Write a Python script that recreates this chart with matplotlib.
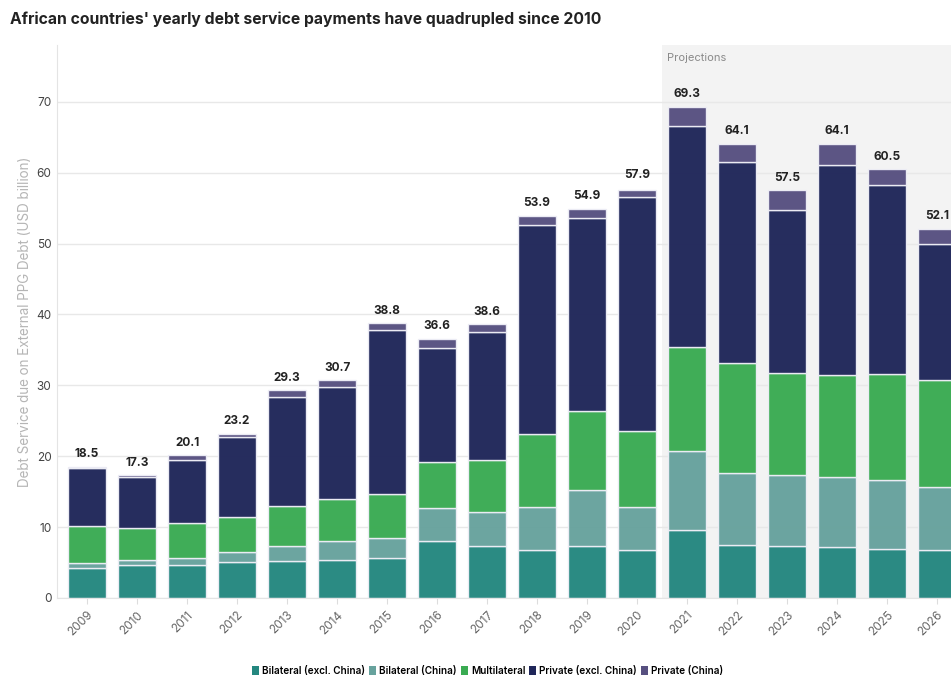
import numpy as np
import matplotlib
matplotlib.use("Agg")
import matplotlib.pyplot as plt
from matplotlib.patches import Patch

plt.rcParams['font.family'] = ['Inter', 'DejaVu Sans']

# Data (USD billion)
years = [str(y) for y in range(2009, 2027)]
bilateral_excl = [4.3, 4.7, 4.6, 5.1, 5.2, 5.4, 5.7, 8.0, 7.3, 6.7, 7.4, 6.8,
                  9.6, 7.5, 7.3, 7.2, 6.9, 6.8]
bilateral_china = [0.7, 0.6, 1.0, 1.4, 2.2, 2.6, 2.8, 4.7, 4.9, 6.2, 7.8, 6.1,
                   11.1, 10.1, 10.1, 9.9, 9.8, 8.8]
multilateral = [5.2, 4.6, 5.0, 4.9, 5.6, 5.9, 6.1, 6.5, 7.3, 10.2, 11.2, 10.6,
                14.7, 15.6, 14.3, 14.4, 14.9, 15.1]
private_excl = [8.1, 7.1, 8.9, 11.3, 15.4, 15.9, 23.2, 16.0, 18.0, 29.5, 27.2, 33.0,
                31.2, 28.3, 23.0, 29.6, 26.6, 19.3]
private_china = [0.2, 0.3, 0.6, 0.5, 0.9, 0.9, 1.0, 1.4, 1.1, 1.3, 1.3, 1.1,
                 2.7, 2.6, 2.8, 3.0, 2.3, 2.1]
totals = [18.5, 17.3, 20.1, 23.2, 29.3, 30.7, 38.8, 36.6, 38.6, 53.9, 54.9, 57.9,
          69.3, 64.1, 57.5, 64.1, 60.5, 52.1]

series = [
    ("Bilateral (excl. China)", bilateral_excl, "#24877f"),
    ("Bilateral (China)", bilateral_china, "#67a29d"),
    ("Multilateral", multilateral, "#3aab52"),
    ("Private (excl. China)", private_excl, "#1f2659"),
    ("Private (China)", private_china, "#575080"),
]

fig = plt.figure(figsize=(9.51, 6.79), dpi=100)
ax = fig.add_axes([0.06, 0.1193, 0.94, 0.8144])

x = np.arange(len(years))

# projections shading
ax.axvspan(11.5, 17.5, color="#f3f3f3", zorder=0, lw=0)
ax.text(11.6, 76.2, "Projections", color="#8a8a8a", fontsize=8, va="center")

bottom = np.zeros(len(years))
for name, vals, col in series:
    vals = np.array(vals)
    ax.bar(x, vals, bottom=bottom, width=0.76, color=col, edgecolor="#eeeef6",
           linewidth=1, alpha=0.97, zorder=2, label=name)
    bottom += vals

for xi, t in zip(x, totals):
    ax.text(xi, t + 0.9, f"{t:.1f}", ha="center", va="bottom", fontsize=8.5,
            fontweight="bold", color="#222222", zorder=3)

ax.set_xlim(-0.6, 17.28)
ax.set_ylim(0, 78)
ax.set_yticks(range(0, 80, 10))
ax.yaxis.grid(True, color="#e8e8e8", lw=1, zorder=1)
ax.set_axisbelow(True)
ax.set_xticks(x)
ax.set_xticklabels(years, rotation=45, ha="right", rotation_mode="anchor",
                   color="#666666", fontsize=8.5)
ax.tick_params(axis="y", length=0, labelsize=8.5, labelcolor="#444444", pad=4)
ax.tick_params(axis="x", length=4, color="#dddddd", pad=4)
for s in ["top", "right"]:
    ax.spines[s].set_visible(False)
for s in ["left", "bottom"]:
    ax.spines[s].set_color("#e4e4e4")

ax.set_ylabel("Debt Service due on External PPG Debt (USD billion)",
              color="#b5b5b5", fontsize=9.7, labelpad=3)

fig.text(0.011, 0.971, "African countries' yearly debt service payments have quadrupled since 2010",
         fontsize=11.3, fontweight="bold", color="#222222", va="center")

handles = [Patch(facecolor=c, edgecolor="none") for _, _, c in series]
labels = [n for n, _, _ in series]
fig.legend(handles, labels, loc="center", bbox_to_anchor=(0.513, 0.012), ncol=5,
           frameon=False, handlelength=0.7, handleheight=0.9,
           handletextpad=0.3, columnspacing=0.4, prop={"weight": "semibold", "size": 7.2})

fig.savefig("out.png", dpi=100)
